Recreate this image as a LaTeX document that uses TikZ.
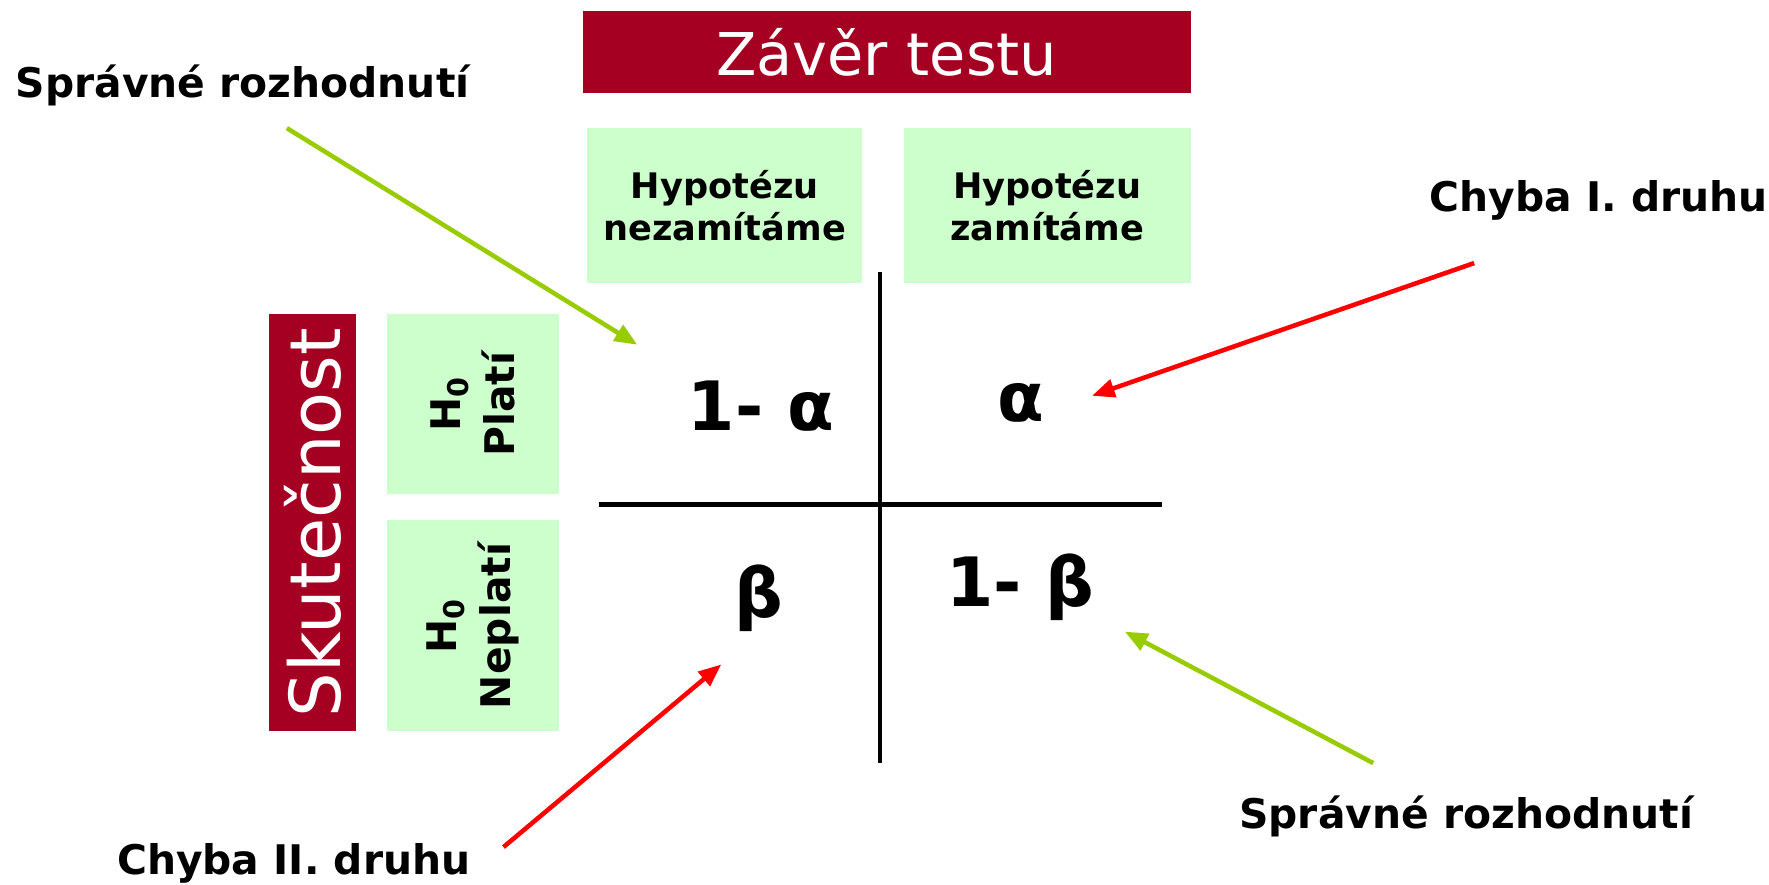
\documentclass[tikz,border=0pt]{standalone}
\usepackage{fontspec}
\setmainfont{DejaVu Sans}
\usetikzlibrary{arrows.meta}
\definecolor{darkred}{HTML}{A50021}
\definecolor{lightgreen}{HTML}{CCFFCC}
\definecolor{arrgreen}{HTML}{99CC00}
\definecolor{arrred}{HTML}{FF0000}
\begin{document}
\begin{tikzpicture}[x=0.5pt,y=-0.5pt,
  redbox/.style={fill=darkred,text=white,inner sep=0pt,align=center},
  greenbox/.style={fill=lightgreen,inner sep=0pt,align=center,font=\bfseries\fontsize{15.5}{18.5}\selectfont},
  lbl/.style={font=\bfseries\fontsize{18}{22}\selectfont,inner sep=0pt},
  val/.style={font=\bfseries\fontsize{30}{36}\selectfont,inner sep=0pt},
  gridline/.style={line width=2pt,black},
  garrow/.style={arrgreen,line width=2pt,-{Triangle[length=10pt,width=8pt]}},
  rarrow/.style={arrred,line width=2pt,-{Triangle[length=10pt,width=8pt]}}]
\useasboundingbox (0,0) rectangle (1560,780.4);
% header
\node[redbox,minimum width=268pt,minimum height=36pt,font=\fontsize{26}{30}\selectfont] (zaver) at (782,46) {Závěr testu};
\node[greenbox,minimum width=121pt,minimum height=68.5pt] (nezam) at (639,181.5) {Hypotézu\\nezamítáme};
\node[greenbox,minimum width=126.5pt,minimum height=68.5pt] (zam) at (923.5,181.5) {Hypotézu\\zamítáme};
% left
\node[redbox,rotate=90,minimum width=184pt,minimum height=38.5pt,font=\fontsize{31}{36}\selectfont] (skut) at (275.5,461) {Skutečnost};
\node[greenbox,rotate=90,minimum width=79.5pt,minimum height=76pt,font=\bfseries\fontsize{18}{23.5}\selectfont] (plati) at (417,356.5) {H\textsubscript{0}\\Platí};
\node[greenbox,rotate=90,minimum width=93pt,minimum height=76pt,font=\bfseries\fontsize{18}{23.5}\selectfont] (neplati) at (417,552) {H\textsubscript{0}\\Neplatí};
% grid
\coordinate (vtop) at (776,240);
\coordinate (vbot) at (776,673);
\coordinate (hl) at (528,445);
\coordinate (hr) at (1025,445);
\draw[gridline] (vtop) -- (vbot);
\draw[gridline] (hl) -- (hr);
% values
\node[val] (v11) at (671,358) {1- α};
\node[val] (v12) at (900,355) {α};
\node[val] (v21) at (669,528) {β};
\node[val] (v22) at (900,518) {1- β};
% labels
\node[lbl] (sr1) at (214,75) {Správné rozhodnutí};
\node[lbl] (ch1) at (1410,177) {Chyba I. druhu};
\node[lbl] (sr2) at (1293,720) {Správné rozhodnutí};
\node[lbl] (ch2) at (259,761) {Chyba II. druhu};
% arrows
\coordinate (a1s) at (253,113);
\coordinate (a1e) at (562,304);
\coordinate (a2s) at (1300,232);
\coordinate (a2e) at (963,349);
\coordinate (a3s) at (444,747);
\coordinate (a3e) at (636,586);
\coordinate (a4s) at (1211,673);
\coordinate (a4e) at (992,557);
\draw[garrow] (a1s) -- (a1e);
\draw[rarrow] (a2s) -- (a2e);
\draw[rarrow] (a3s) -- (a3e);
\draw[garrow] (a4s) -- (a4e);
\end{tikzpicture}
\end{document}
